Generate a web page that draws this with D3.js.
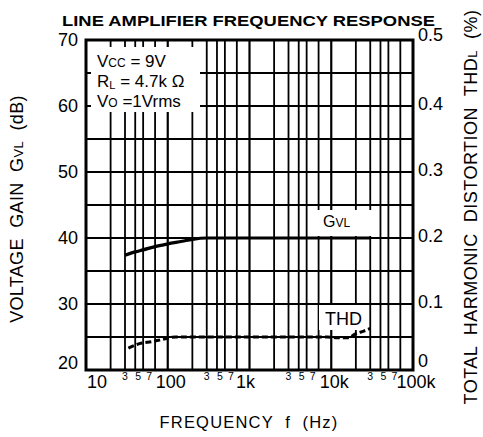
<!DOCTYPE html>
<html>
<head>
<meta charset="utf-8">
<script src="https://cdn.jsdelivr.net/npm/d3@7/dist/d3.min.js"></script>
<style>
  html, body { margin: 0; padding: 0; background: #fff; }
  svg { display: block; }
  text { font-family: "Liberation Sans", Arial, Helvetica, sans-serif; fill: #000; white-space: pre; }
</style>
</head>
<body>
<svg id="chart" width="483" height="437"></svg>
<script>
// ---- data ----
const gvlFreq = [30, 40, 50, 70, 100, 150, 200, 300, 500, 1000, 3000, 10000, 30000];
const gvlDb   = [37.4, 37.9, 38.2, 38.7, 39.1, 39.5, 39.8, 40, 40, 40, 40, 40, 40];

const thdFreq = [33, 45, 65, 90, 125, 200, 500, 1000, 3000, 9000, 12000, 16000, 20000, 25000, 30000];
const thdPct  = [0.033, 0.040, 0.043, 0.047, 0.050, 0.050, 0.050, 0.050, 0.050, 0.050, 0.049, 0.049, 0.055, 0.059, 0.063];

const decades = [10, 100, 1000, 10000, 100000];
const decadeLabels = ["10", "100", "1k", "10k", "100k"];
const minorMult = [2, 3, 4, 5, 7];
const smallLabelMult = [3, 5, 7];
const gainTicks = [20, 30, 40, 50, 60, 70];
const gainGrid = [25, 30, 35, 40, 45, 50, 55, 60, 65];
const thdTicks = [0, 0.1, 0.2, 0.3, 0.4, 0.5];

// ---- layout ----
const L = 86, R = 413, T = 40, B = 370;
const svg = d3.select("#chart");
const x = d3.scaleLog().domain([10, 100000]).range([L, R]);
const yL = d3.scaleLinear().domain([20, 70]).range([B, T]);
const yR = d3.scaleLinear().domain([0, 0.5]).range([B, T]);

// grid
const minorFreqs = [];
decades.slice(0, -1).forEach(d => minorMult.forEach(m => minorFreqs.push(d * m)));
minorFreqs.push(...decades.slice(1, -1));
const g = svg.append("g");
g.selectAll("line.v").data(minorFreqs).join("line")
  .attr("x1", d => x(d)).attr("x2", d => x(d)).attr("y1", T).attr("y2", B)
  .attr("stroke", "#000")
  .attr("stroke-width", d => decades.includes(d) ? 2.2 : 1.8);
g.selectAll("line.h").data(gainGrid).join("line")
  .attr("x1", L).attr("x2", R).attr("y1", d => yL(d)).attr("y2", d => yL(d))
  .attr("stroke", "#000").attr("stroke-width", 2);

// masks for labels
svg.append("rect").attr("x", 91).attr("y", 47).attr("width", 109).attr("height", 65).attr("fill", "#fff");
svg.append("rect").attr("x", 308).attr("y", 210).attr("width", 64).attr("height", 26).attr("fill", "#fff");
svg.append("rect").attr("x", 319).attr("y", 305).attr("width", 48).attr("height", 25).attr("fill", "#fff");

// border
svg.append("rect").attr("x", L).attr("y", T).attr("width", R - L).attr("height", B - T)
  .attr("fill", "none").attr("stroke", "#000").attr("stroke-width", 3);

// curves
const lineG = d3.line().x(d => x(d[0])).y(d => yL(d[1])).curve(d3.curveMonotoneX);
svg.append("path").datum(gvlFreq.map((f, i) => [f, gvlDb[i]]))
  .attr("d", lineG).attr("fill", "none").attr("stroke", "#000").attr("stroke-width", 3.2);
const lineT = d3.line().x(d => x(d[0])).y(d => yR(d[1])).curve(d3.curveMonotoneX);
svg.append("path").datum(thdFreq.map((f, i) => [f, thdPct[i]]))
  .attr("d", lineT).attr("fill", "none").attr("stroke", "#000").attr("stroke-width", 3)
  .attr("stroke-dasharray", "6,3");

// left tick labels
svg.selectAll("text.yl").data(gainTicks).join("text")
  .attr("x", 78).attr("y", d => yL(d) + (d === 20 ? -1 : 5.5))
  .attr("text-anchor", "end").attr("font-size", 18).text(d => d);
// right tick labels
svg.selectAll("text.yr").data(thdTicks).join("text")
  .attr("x", 418).attr("y", d => yR(d) + (d === 0 ? -3 : d === 0.5 ? 1 : 4))
  .attr("text-anchor", "start").attr("font-size", 18).text(d => d === 0 ? "0" : d.toFixed(1));
// bottom decade labels
svg.selectAll("text.xd").data(decades).join("text")
  .attr("x", (d, i) => i === 0 ? x(d) + 1 : x(d) + (i === 2 ? -4 : 3))
  .attr("y", 388).attr("text-anchor", (d, i) => i === 0 ? "start" : "middle")
  .attr("font-size", 18).text((d, i) => decadeLabels[i]);
// small 3 5 7 labels
const smallF = [];
decades.slice(0, -1).forEach(d => smallLabelMult.forEach(m => smallF.push({f: d * m, m})));
svg.selectAll("text.xs").data(smallF).join("text")
  .attr("x", d => x(d.f) + (d.m === 3 ? 0 : d.m === 5 ? -5 : -6))
  .attr("y", 380).attr("text-anchor", "middle").attr("font-size", 10.5).text(d => d.m);

// title
svg.append("text").attr("x", 62).attr("y", 26).attr("font-size", 15.5).attr("font-weight", "bold")
  .attr("textLength", 373).attr("lengthAdjust", "spacingAndGlyphs")
  .text("LINE AMPLIFIER FREQUENCY RESPONSE");

// condition box
let t1 = svg.append("text").attr("x", 97).attr("y", 67);
t1.append("tspan").attr("font-size", 17).text("V");
t1.append("tspan").attr("font-size", 12).text("CC");
t1.append("tspan").attr("font-size", 17).text(" = 9V");
let t2 = svg.append("text").attr("x", 97).attr("y", 87);
t2.append("tspan").attr("font-size", 17).text("R");
t2.append("tspan").attr("font-size", 11).attr("dy", 2).text("L");
t2.append("tspan").attr("font-size", 17).attr("dy", -2).text(" = 4.7k Ω");
let t3 = svg.append("text").attr("x", 97).attr("y", 107);
t3.append("tspan").attr("font-size", 17).text("V");
t3.append("tspan").attr("font-size", 12).text("O");
t3.append("tspan").attr("font-size", 17).text(" =1Vrms");

// curve labels
let tg = svg.append("text").attr("x", 323).attr("y", 227);
tg.append("tspan").attr("font-size", 16).text("G");
tg.append("tspan").attr("font-size", 12).text("VL");
svg.append("text").attr("x", 325).attr("y", 325).attr("font-size", 18).text("THD");

// axis titles
svg.append("text").attr("x", 249).attr("y", 428).attr("text-anchor", "middle").attr("font-size", 16.5)
  .attr("letter-spacing", 1.2).text("FREQUENCY  f  (Hz)");
let yt = svg.append("text").attr("transform", "translate(23,209) rotate(-90)")
  .attr("text-anchor", "middle").attr("letter-spacing", 0.3);
yt.append("tspan").attr("font-size", 18).text("VOLTAGE  GAIN  G");
yt.append("tspan").attr("font-size", 13).text("VL");
yt.append("tspan").attr("font-size", 18).text("  (dB)");
let rt = svg.append("text").attr("transform", "translate(477,207) rotate(-90)")
  .attr("text-anchor", "middle").attr("letter-spacing", 0.5);
rt.append("tspan").attr("font-size", 18).text("TOTAL  HARMONIC  DISTORTION  THD");
rt.append("tspan").attr("font-size", 13).text("L");
rt.append("tspan").attr("font-size", 18).text("  (%)");
</script>
</body>
</html>
